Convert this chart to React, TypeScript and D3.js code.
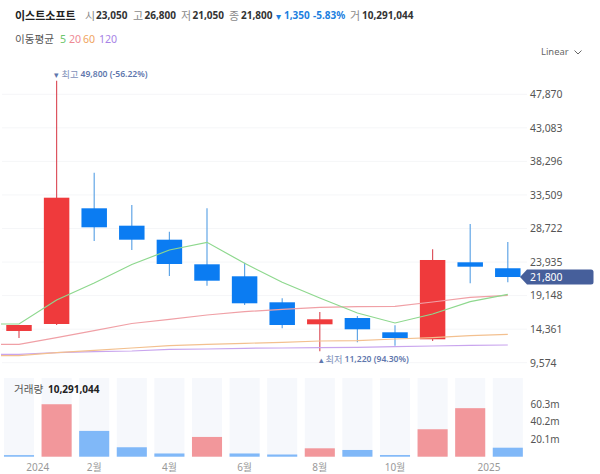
import React, { useRef, useEffect } from "react";
import * as d3 from "d3";

// monthly candles, Dec 2023 - Jan 2025
const months = ["2023-12", "2024-01", "2024-02", "2024-03", "2024-04", "2024-05", "2024-06", "2024-07", "2024-08", "2024-09", "2024-10", "2024-11", "2024-12", "2025-01"];
const opens = [14100, 15096, 31604, 29122, 27125, 23614, 21902, 18192, 15053, 15950, 13912, 12913, 23900, 23050];
const closes = [14953, 33117, 28894, 27125, 23657, 21274, 18050, 14953, 15766, 14340, 13098, 24228, 23272, 21800];
const highs = [14953, 49800, 36684, 32075, 28266, 31604, 23842, 18763, 16807, 16237, 14910, 25754, 29363, 26800];
const lows = [13098, 14953, 26939, 25654, 21945, 20561, 17807, 14483, 11220, 12485, 11990, 12671, 20903, 21050];
const volumes = [1.8, 60, 29.5, 10.8, 3.7, 22.6, 3.7, 2.5, 9.6, 7.7, 1.9, 31.4, 55.5, 10.29];
// volume colour does not always follow the candle
const volumeUp = [false, true, false, false, false, true, false, false, true, false, false, true, true, false];

const ma5 = [15096, 18521, 20946, 23586, 25655, 26753, 23757, 21046, 18806, 16666, 15239, 16523, 18278, 19334];
const ma20 = [12200, 13142, 14140, 15168, 15767, 16381, 16851, 17194, 17479, 17565, 17622, 18235, 18906, 19191];
const ma60 = [10573, 11001, 11344, 11672, 12000, 12200, 12343, 12485, 12671, 12714, 12956, 13142, 13427, 13627];
const ma120 = [10773, 11001, 11144, 11244, 11487, 11530, 11629, 11672, 11715, 11772, 11858, 11957, 12057, 12100];

const priceTicks = [47870, 43083, 38296, 33509, 28722, 23935, 19148, 14361, 9574];
const volumeTicks = [60.3, 40.2, 20.1];
const monthTicks = ["2024-01", "2024-02", "2024-04", "2024-06", "2024-08", "2024-10", "2025-01"];
const monthTickLabels = ["2024", "2월", "4월", "6월", "8월", "10월", "2025"];

const UP = "#ef3a3c";
const DOWN = "#0b7cf2";
const FONT = '"Noto Sans", "Noto Sans CJK KR", sans-serif';

const App: React.FC = () => {
  const svgRef = useRef<SVGSVGElement>(null);

  useEffect(() => {
    const svg = d3.select(svgRef.current);
    svg.selectAll("*").remove();

    const x = d3.scaleBand<string>().domain(months).range([0.2, 526.6]).paddingInner(0.2).paddingOuter(0.1);
    const xc = (m: string) => (x(m) as number) + x.bandwidth() / 2;
    const y = d3.scaleLinear().domain([9574, 47870]).range([362.7, 94.3]);
    const yVol = d3.scaleLinear().domain([0, 90]).range([456.7, 378]);

    const label = (
      px: number,
      py: number,
      text: string,
      size: number,
      fill: string,
      weight = 400,
      anchor = "start"
    ) =>
      svg
        .append("text")
        .attr("x", px)
        .attr("y", py)
        .attr("font-size", size)
        .attr("font-weight", weight)
        .attr("fill", fill)
        .attr("text-anchor", anchor)
        .attr("dominant-baseline", "central")
        .text(text);

    // header
    label(15, 15, "이스트소프트", 11, "#222", 700);
    label(85, 15, "시", 11, "#8a8a8a");
    label(96, 15, "23,050", 10, "#333", 700);
    label(133, 15, "고", 11, "#8a8a8a");
    label(144.5, 15, "26,800", 10, "#333", 700);
    label(181, 15, "저", 11, "#8a8a8a");
    label(192.5, 15, "21,050", 10, "#333", 700);
    label(229, 15, "종", 11, "#8a8a8a");
    label(241, 15, "21,800", 10, "#333", 700);
    label(275.5, 15.5, "▾", 10, "#1c7fe0");
    label(284, 15, "1,350", 10, "#1c7fe0", 700);
    label(313, 15, "-5.83%", 10, "#1c7fe0", 700);
    label(350, 15, "거", 11, "#8a8a8a");
    label(362, 15, "10,291,044", 10, "#333", 700);

    label(15, 38.5, "이동평균", 10.6, "#555");
    label(60, 38.5, "5", 10.6, "#6cc66c");
    label(69, 38.5, "20", 10.6, "#ee8a94");
    label(83, 38.5, "60", 10.6, "#f0a55f");
    label(99, 38.5, "120", 10.6, "#a884e6");

    label(541, 51, "Linear", 9.4, "#666");
    svg
      .append("path")
      .attr("d", "M574.5,50.5L578,54L581.5,50.5")
      .attr("fill", "none")
      .attr("stroke", "#666");

    // price grid + axis
    svg
      .append("g")
      .selectAll("line")
      .data(priceTicks)
      .join("line")
      .attr("x1", 2)
      .attr("x2", 527)
      .attr("y1", (d) => y(d))
      .attr("y2", (d) => y(d))
      .attr("stroke", "#f5f6f8");

    const priceAxis = svg
      .append("g")
      .attr("transform", "translate(530,0)")
      .call(d3.axisRight(y).tickValues(priceTicks).tickSize(0).tickPadding(0).tickFormat(d3.format(",") as any));
    priceAxis.select(".domain").remove();
    priceAxis.selectAll("text").attr("font-size", 10.4).attr("font-family", FONT).attr("fill", "#555");

    // candles
    const candles = svg.append("g").selectAll("g").data(months).join("g");
    candles
      .append("line")
      .attr("x1", (m) => xc(m))
      .attr("x2", (m) => xc(m))
      .attr("y1", (_, i) => y(highs[i]))
      .attr("y2", (_, i) => y(lows[i]))
      .attr("stroke", (_, i) => (closes[i] >= opens[i] ? "#dd5560" : "#62a6e6"))
      .attr("stroke-width", 1.2);
    candles
      .append("rect")
      .attr("x", (m) => x(m) as number)
      .attr("width", x.bandwidth() - 4.6)
      .attr("transform", `translate(2.3,0)`)
      .attr("y", (_, i) => y(Math.max(opens[i], closes[i])))
      .attr("height", (_, i) => Math.abs(y(opens[i]) - y(closes[i])))
      .attr("fill", (_, i) => (closes[i] >= opens[i] ? UP : DOWN));

    // moving averages, the first value runs flat in from the left edge
    const line = d3
      .line<number>()
      .x((_, i) => (i === 0 ? 1 : xc(months[i - 1])))
      .y((d) => y(d));
    const maSeries: [number[], string][] = [
      [ma120, "#c9a5ee"],
      [ma60, "#f3c08f"],
      [ma20, "#f0a0a6"],
      [ma5, "#8ed88e"],
    ];
    svg
      .append("g")
      .selectAll("path")
      .data(maSeries)
      .join("path")
      .attr("d", (d) => line([d[0][0], ...d[0]]))
      .attr("fill", "none")
      .attr("stroke", (d) => d[1])
      .attr("stroke-width", 1.2);

    // high / low notes
    const noteColor = "#5f77ad";
    const hiY = y(49800) - 6.5;
    label(54, hiY, "▾", 9, noteColor);
    label(61.5, hiY, "최고", 9.2, "#7d8fb8");
    label(80.5, hiY, "49,800 (-56.22%)", 8.6, noteColor, 600);
    const loY = y(11220) + 8;
    label(318.5, loY, "▴", 9, noteColor);
    label(325.5, loY, "최저", 9.2, "#7d8fb8");
    label(344.5, loY, "11,220 (94.30%)", 8.6, noteColor, 600);

    // last price tag
    const tagY = y(closes[closes.length - 1]);
    svg
      .append("path")
      .attr(
        "d",
        `M520,${tagY}L527,${tagY - 7.5}H591a2.5,2.5 0 0 1 2.5,2.5V${tagY + 5}a2.5,2.5 0 0 1 -2.5,2.5H527Z`
      )
      .attr("fill", "#465f9b");
    label(530, tagY, "21,800", 10.4, "#fff");

    // volume
    svg
      .append("g")
      .selectAll("rect")
      .data(months)
      .join("rect")
      .attr("x", (m) => x(m) as number)
      .attr("width", x.bandwidth())
      .attr("y", yVol(90))
      .attr("height", yVol(0) - yVol(90))
      .attr("fill", "#f6f8fc");
    svg
      .append("g")
      .selectAll("rect")
      .data(months)
      .join("rect")
      .attr("x", (m) => x(m) as number)
      .attr("width", x.bandwidth())
      .attr("y", (_, i) => yVol(volumes[i]))
      .attr("height", (_, i) => yVol(0) - yVol(volumes[i]))
      .attr("fill", (_, i) => (volumeUp[i] ? "#f2979b" : "#80b8f8"));

    label(14, 389, "거래량", 10.6, "#555");
    label(48, 389, "10,291,044", 10, "#222", 700);

    const volumeAxis = svg
      .append("g")
      .attr("transform", "translate(530.5,0)")
      .call(
        d3
          .axisRight(yVol)
          .tickValues(volumeTicks)
          .tickSize(0)
          .tickPadding(0)
          .tickFormat((d) => `${d}m`)
      );
    volumeAxis.select(".domain").remove();
    volumeAxis.selectAll("text").attr("font-size", 10).attr("font-family", FONT).attr("fill", "#555");

    // month axis, year labels sit half a band to the left
    svg
      .append("g")
      .selectAll("text")
      .data(monthTicks)
      .join("text")
      .attr("x", (m, i) => xc(m) - (/^\d{4}$/.test(monthTickLabels[i]) ? x.step() / 2 : 0))
      .attr("y", 466.5)
      .attr("text-anchor", "middle")
      .attr("dominant-baseline", "central")
      .attr("font-size", 10)
      .attr("fill", "#999")
      .text((_, i) => monthTickLabels[i]);
  }, []);

  return (
    <svg
      ref={svgRef}
      width={600}
      height={474}
      style={{ position: "absolute", left: 0, top: 0, fontFamily: FONT, background: "#fff" }}
    />
  );
};

export default App;
